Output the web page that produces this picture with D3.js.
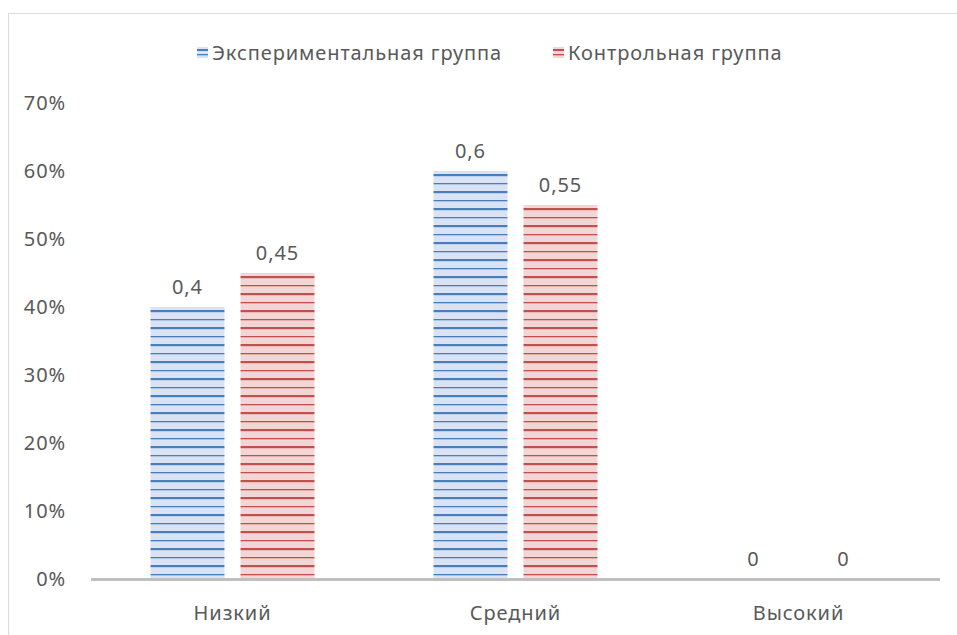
<!DOCTYPE html>
<html>
<head>
<meta charset="utf-8">
<script src="https://cdnjs.cloudflare.com/ajax/libs/d3/7.8.5/d3.min.js"></script>
<style>
  body { margin: 0; background: #fff; }
  text { font-family: "Noto Sans", "Open Sans", sans-serif; fill: #595959; font-size: 20px; letter-spacing: 0.9px; }
</style>
</head>
<body>
<div id="chart"></div>
<script>
var categories = ['Низкий', 'Средний', 'Высокий'];
var seriesNames = ['Экспериментальная группа', 'Контрольная группа'];
var expValues = [0.4, 0.6, 0];
var ctrlValues = [0.45, 0.55, 0];
var yTicks = [0, 0.1, 0.2, 0.3, 0.4, 0.5, 0.6, 0.7];

var width = 957, height = 635;
var margin = {left: 91, right: 17, top: 103, bottom: 56};

var svg = d3.select('#chart').append('svg')
    .attr('width', width)
    .attr('height', height);

var colors = [
  {bg: '#dae3f3', line: '#4a7ebb', name: 'blue'},
  {bg: '#f2d5d5', line: '#c0504d', name: 'red'}
];

var defs = svg.append('defs');
colors.forEach(function(c) {
  var p = defs.append('pattern')
      .attr('id', 'hatch-' + c.name)
      .attr('patternUnits', 'userSpaceOnUse')
      .attr('width', 8)
      .attr('height', 17)
      .attr('y', 579);
  p.append('rect').attr('width', 8).attr('height', 17).attr('fill', c.bg);
  p.append('rect').attr('y', 3).attr('width', 8).attr('height', 2.2).attr('fill', c.line);
  p.append('rect').attr('y', 12).attr('width', 8).attr('height', 1.3).attr('fill', c.line);
});

// chart frame
svg.append('path')
    .attr('d', 'M8.5,' + height + 'V13.5H' + width)
    .attr('fill', 'none')
    .attr('stroke', '#d9d9d9')
    .attr('stroke-width', 1);

var x0 = d3.scaleBand()
    .domain(categories)
    .range([margin.left, width - margin.right]);

var x1 = d3.scaleBand()
    .domain([0, 1])
    .range([0, 164])
    .paddingInner(0.178);

var y = d3.scaleLinear()
    .domain([0, 0.7])
    .range([height - margin.bottom, margin.top]);

// y axis labels
svg.append('g').selectAll('text')
    .data(yTicks)
    .enter().append('text')
    .attr('x', 66)
    .attr('y', function(d) { return y(d); })
    .attr('dy', '0.35em')
    .attr('text-anchor', 'end')
    .text(d3.format('.0%'));

var groups = svg.append('g').selectAll('g')
    .data(categories)
    .enter().append('g')
    .attr('transform', function(d) {
      return 'translate(' + (x0(d) + x0.bandwidth() / 2 - 82) + ',0)';
    });

groups.selectAll('rect')
    .data(function(d, i) { return [expValues[i], ctrlValues[i]]; })
    .enter().append('rect')
    .attr('x', function(d, j) { return x1(j); })
    .attr('width', x1.bandwidth())
    .attr('y', function(d) { return y(d); })
    .attr('height', function(d) { return y(0) - y(d); })
    .attr('fill', function(d, j) { return 'url(#hatch-' + colors[j].name + ')'; });

groups.selectAll('text')
    .data(function(d, i) { return [expValues[i], ctrlValues[i]]; })
    .enter().append('text')
    .attr('x', function(d, j) { return x1(j) + x1.bandwidth() / 2; })
    .attr('y', function(d) { return y(d) - 20; })
    .attr('dy', '0.35em')
    .attr('text-anchor', 'middle')
    .text(function(d) { return String(d).replace('.', ','); });

// x axis line
svg.append('line')
    .attr('x1', margin.left)
    .attr('x2', width - margin.right)
    .attr('y1', y(0) + 0.5)
    .attr('y2', y(0) + 0.5)
    .attr('stroke', '#bfbfbf')
    .attr('stroke-width', 3);

var xAxis = d3.axisBottom(x0).tickSize(0).tickPadding(0);
var gx = svg.append('g')
    .attr('transform', 'translate(0,' + y(0) + ')')
    .call(xAxis);
gx.select('.domain').remove();
gx.selectAll('text')
    .attr('y', 34)
    .attr('dy', '0.35em')
    .style('font-size', '20px')
    .style('font-family', '"Noto Sans", "Open Sans", sans-serif')
    .attr('fill', '#595959');

// legend
var legendX = [197, 553];
var legend = svg.append('g').selectAll('g')
    .data(seriesNames)
    .enter().append('g')
    .attr('transform', function(d, i) { return 'translate(' + legendX[i] + ',47)'; });
legend.append('rect')
    .attr('width', 11).attr('height', 11)
    .attr('fill', function(d, i) { return colors[i].bg; });
legend.append('rect')
    .attr('y', 2).attr('width', 11).attr('height', 2)
    .attr('fill', function(d, i) { return colors[i].line; });
legend.append('rect')
    .attr('y', 7).attr('width', 11).attr('height', 1.3)
    .attr('fill', function(d, i) { return colors[i].line; });
legend.append('text')
    .attr('x', 15)
    .attr('y', 5.5)
    .attr('dy', '0.35em')
    .text(function(d) { return d; });
</script>
</body>
</html>
